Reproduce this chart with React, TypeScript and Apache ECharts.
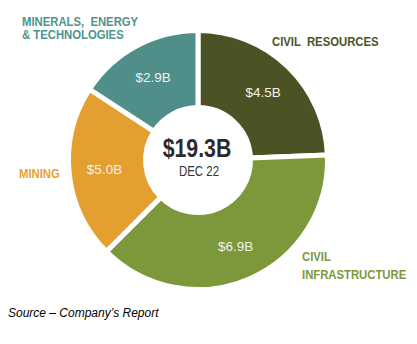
import React, { useEffect, useRef } from "react";
import * as echarts from "echarts";

const segments = ["CIVIL RESOURCES", "CIVIL INFRASTRUCTURE", "MINING", "MINERALS, ENERGY & TECHNOLOGIES"];
// slice shares (%) as they appear in the picture
const sliceShares = [24.4, 38.1, 21.7, 15.8];
const valueLabels = ["$4.5B", "$6.9B", "$5.0B", "$2.9B"];
const colors = ["#4B5324", "#7C983B", "#E3A030", "#4F8E89"];
const totalLabel = "$19.3B";
const dateLabel = "DEC 22";
const sourceNote = "Source \u2013 Company\u2019s Report";

const SANS = "'Liberation Sans', Arial, sans-serif";
const SQ = 0.82;
const SQ_OUT = 0.87;

export default function App() {
  const ref = useRef<HTMLDivElement>(null);
  useEffect(() => {
    document.body.style.margin = "0";
    const chart = echarts.init(ref.current!, null, { renderer: "svg" });
    const label = (text: string, x: number, y: number, color: string) => ({
      type: "text",
      x,
      y,
      scaleX: SQ_OUT,
      style: { text, fill: color, font: `bold 13px ${SANS}`, verticalAlign: "middle" },
    });
    chart.setOption({
      animation: false,
      backgroundColor: "#ffffff",
      series: [
        {
          type: "pie",
          center: [198, 160],
          radius: [52.5, 129.5],
          startAngle: 90,
          clockwise: true,
          silent: true,
          itemStyle: { borderColor: "#ffffff", borderWidth: 5 },
          label: {
            show: true,
            position: "inside",
            color: "#F2F2EA",
            fontFamily: SANS,
            fontSize: 13.5,
            formatter: (p: any) => valueLabels[p.dataIndex],
          },
          labelLine: { show: false },
          data: segments.map((name, i) => ({
            name,
            value: sliceShares[i],
            itemStyle: { color: colors[i] },
          })),
        },
      ],
      graphic: [
        {
          type: "text",
          x: 197,
          y: 148,
          scaleX: SQ,
          style: {
            text: totalLabel,
            fill: "#2B2B2B",
            font: `bold 26px ${SANS}`,
            align: "center",
            verticalAlign: "middle",
          },
        },
        {
          type: "text",
          x: 199,
          y: 171,
          scaleX: SQ,
          style: {
            text: dateLabel,
            fill: "#333333",
            font: `14px ${SANS}`,
            align: "center",
            verticalAlign: "middle",
          },
        },
        label("MINERALS,  ENERGY", 22, 21.5, "#4E948E"),
        label("& TECHNOLOGIES", 22, 35, "#4E948E"),
        label("CIVIL  RESOURCES", 272, 41.5, "#4B5324"),
        label("MINING", 19, 173.5, "#E8A035"),
        label("CIVIL", 302, 257, "#7C983B"),
        label("INFRASTRUCTURE", 302, 274.5, "#7C983B"),
        {
          type: "text",
          x: 8,
          y: 312.5,
          style: {
            text: sourceNote,
            fill: "#000000",
            font: `italic 12px ${SANS}`,
            verticalAlign: "middle",
          },
        },
      ],
    });
    return () => chart.dispose();
  }, []);
  return <div ref={ref} style={{ position: "fixed", left: 0, top: 0, width: 417, height: 344 }} />;
}
